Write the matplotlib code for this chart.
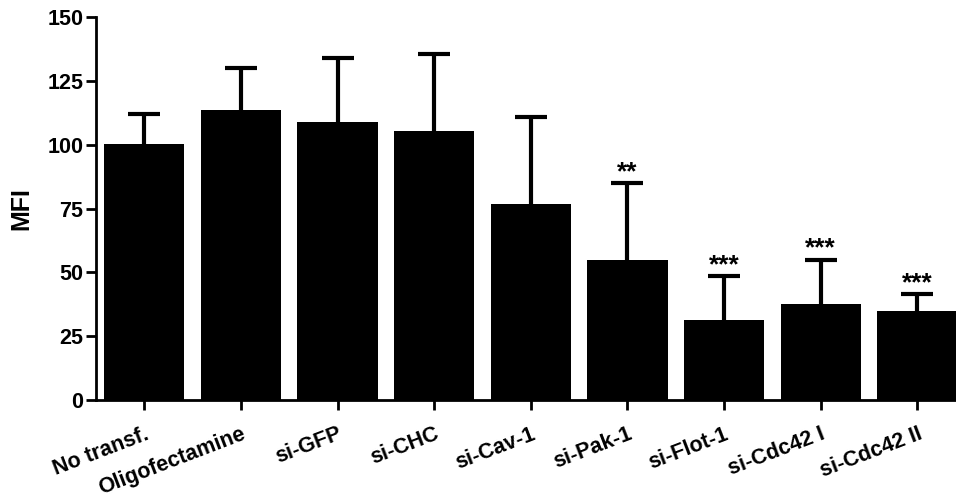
import numpy as np
import matplotlib.pyplot as plt

plt.rcParams['font.family'] = ['Liberation Sans', 'DejaVu Sans']
plt.rcParams['font.weight'] = 'bold'

# values
groups = ['No transf.', 'Oligofectamine', 'si-GFP', 'si-CHC', 'si-Cav-1',
          'si-Pak-1', 'si-Flot-1', 'si-Cdc42 I', 'si-Cdc42 II']
mfi = [100.1, 113.6, 108.8, 105.5, 76.6, 54.8, 31.3, 37.6, 34.7]
err_up = [11.8, 16.3, 25.0, 29.9, 34.1, 30.2, 17.3, 17.4, 6.8]
stars = ['', '', '', '', '', '**', '***', '***', '***']
yticks = [0, 25, 50, 75, 100, 125, 150]

fig = plt.figure(figsize=(9.56, 4.99), dpi=100)
ax = fig.add_axes([0.1004, 0.1984, 0.8996, 0.7675])

x = np.arange(len(groups))
ax.bar(x, mfi, width=0.83, color='black', zorder=2)
_, caps, _ = ax.errorbar(x, mfi, yerr=[np.zeros(len(mfi)), err_up], fmt='none',
                         ecolor='black', elinewidth=3, capsize=11.5, capthick=3,
                         zorder=1)
# only the upper cap is wanted
caps[0].remove()

for xi, m, e, s in zip(x, mfi, err_up, stars):
    if s:
        ax.text(xi, m + e + 1.5, s, ha='center', va='baseline',
                fontsize=19, fontweight='bold')

ax.set_xlim(-0.5, 8.4)
ax.set_ylim(0, 150)
ax.set_yticks(yticks)
ax.set_xticks(x)
ax.set_xticklabels(groups, rotation=21, ha='right', rotation_mode='anchor',
                   fontsize=15.5, fontweight='bold')
ax.tick_params(axis='y', labelsize=15.5, length=7, width=2, pad=2)
ax.tick_params(axis='x', length=7, width=2, pad=10)
for lbl in ax.get_yticklabels():
    lbl.set_fontweight('bold')

ax.set_ylabel('MFI', fontsize=18, fontweight='bold', labelpad=10)

for side in ['top', 'right']:
    ax.spines[side].set_visible(False)
for side in ['left', 'bottom']:
    ax.spines[side].set_linewidth(2)

fig.savefig('out.png', dpi=100)
